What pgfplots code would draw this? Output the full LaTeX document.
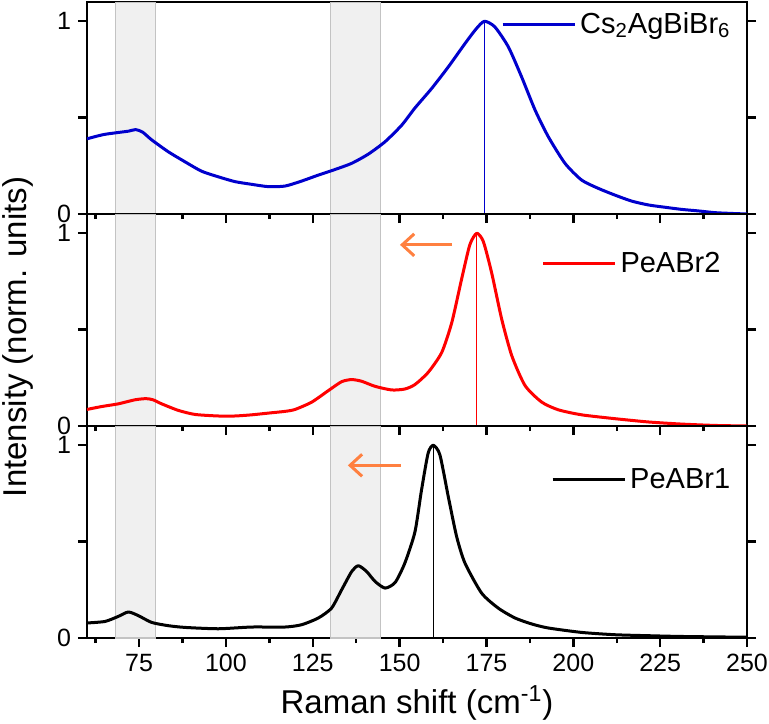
\documentclass[border=0pt]{standalone}
\usepackage{fontspec}
\setmainfont{Liberation Sans}
\usepackage{pgfplots}
\pgfplotsset{compat=1.18}
\usetikzlibrary{arrows.meta}
\definecolor{cblue}{RGB}{0,0,205}
\definecolor{cred}{RGB}{255,0,0}
\definecolor{corange}{RGB}{255,128,64}
\definecolor{bandfill}{RGB}{240,240,240}
\definecolor{bandline}{RGB}{195,195,195}
\pgfplotsset{
  panel/.style={
    width=330pt, height=106pt, scale only axis,
    xmin=60, xmax=250, ymin=0, ymax=1.1,
    axis line style={line width=1.2pt},
    xtick={75,100,...,250}, minor xtick={62.5,87.5,...,237.5},
    xtick pos=bottom,
    ytick={0,0.5,1}, yticklabels={0,,1},
    ytick pos=both,
    tick align=outside,
    major tick length=4.5pt, minor tick length=2.5pt,
    every tick/.style={black, line width=1.2pt},
    tick label style={font=\fontsize{12.5}{14}\selectfont},
    /pgf/number format/assume math mode=true,
    legend style={draw=none, fill=none, inner sep=0pt, anchor=west, xshift=-1pt,
      font=\fontsize{14.5}{16}\selectfont},
    legend cell align=left,
    legend image code/.code={\draw[#1] (0pt,0pt) -- (36pt,0pt);},
    clip=true,
  },
  band/.style={fill=bandfill, draw=bandline, line width=0.6pt, forget plot},
  curve/.style={line width=1.5pt, line join=round, smooth, tension=0.4},
  peak/.style={line width=0.7pt, forget plot},
  shiftarrow/.style={corange, line width=1.5pt, -{Straight Barb[length=6pt,width=11pt]}, forget plot},
}
\begin{document}
\begin{tikzpicture}
% ---------------- top panel ----------------
\begin{axis}[panel, name=top, xticklabels={},
  legend style={at={(axis cs:179.7,0.984)}}]
\addplot[band] coordinates {(68.3,0) (68.3,1.1) (79.8,1.1) (79.8,0)} -- cycle;
\addplot[band] coordinates {(130.2,0) (130.2,1.1) (144.6,1.1) (144.6,0)} -- cycle;
\addplot[peak, cblue] coordinates {(174.4,0) (174.4,1)};
\addplot[curve, cblue] coordinates {
(60,0.39) (62,0.40) (65,0.413) (69,0.423) (72,0.43) (74,0.438) (76,0.425)
(78.6,0.385) (83.4,0.323) (88.2,0.271) (93,0.222) (97.8,0.193) (102.6,0.168)
(107.4,0.154) (112.2,0.142) (117,0.145) (121.8,0.171) (126.6,0.202) (131.4,0.231)
(136.2,0.263) (141,0.311) (145.8,0.375) (150.6,0.461) (154.4,0.55) (159.2,0.651)
(164,0.763) (168.8,0.884) (172,0.96) (174.4,1.0) (177.4,0.971) (181.3,0.867)
(185.1,0.712) (189,0.539) (192.8,0.401) (197.6,0.263) (202.4,0.176) (207.2,0.133)
(212,0.098) (216.8,0.067) (221.6,0.047) (226.4,0.035) (231.2,0.024) (236,0.016)
(240.8,0.007) (245.6,0.003) (250,0.0)};
\addlegendentry{Cs\textsubscript{2}AgBiBr\textsubscript{6}}
\end{axis}
% ---------------- middle panel ----------------
\begin{axis}[panel, name=mid, at={(top.south west)}, anchor=north west, xticklabels={},
  ylabel={Intensity (norm. units)},
  ylabel style={font=\fontsize{16.5}{18}\selectfont, at={(ticklabel cs:0.42,5pt)}},
  legend style={at={(axis cs:191.3,0.842)}}]
\addplot[band] coordinates {(68.3,0) (68.3,1.1) (79.8,1.1) (79.8,0)} -- cycle;
\addplot[band] coordinates {(130.2,0) (130.2,1.1) (144.6,1.1) (144.6,0)} -- cycle;
\addplot[peak, cred] coordinates {(172.2,0) (172.2,1)};
\addplot[shiftarrow] coordinates {(165.1,0.94) (150.1,0.94)};
\addplot[curve, cred] coordinates {
(60,0.086) (64.2,0.101) (69,0.115) (73.8,0.136) (77,0.142) (79,0.136) (81.5,0.115)
(86.3,0.081) (91.1,0.060) (97.8,0.052) (102.6,0.052) (107.4,0.058) (112.2,0.067)
(117,0.076) (119.9,0.086) (124.7,0.124) (129.5,0.184) (133.3,0.230) (136.2,0.241)
(139.1,0.232) (142.9,0.206) (147.7,0.187) (151.5,0.192) (154.4,0.215) (158.2,0.278)
(162.1,0.381) (165,0.536) (167.8,0.759) (170.2,0.94) (172.2,1.0) (174.1,0.957)
(176.5,0.794) (179.4,0.553) (182.3,0.364) (186.1,0.210) (190.9,0.124) (195.7,0.084)
(202.4,0.058) (212,0.038) (221.6,0.021) (231.2,0.010) (240.8,0.003) (250,0.0)};
\addlegendentry{PeABr2}
\end{axis}
% ---------------- bottom panel ----------------
\begin{axis}[panel, name=bot, at={(mid.south west)}, anchor=north west,
  xlabel={Raman shift (cm\textsuperscript{-1})},
  xlabel style={font=\fontsize{16.5}{18}\selectfont},
  legend style={at={(axis cs:194.1,0.820)}}]
\addplot[band] coordinates {(68.3,0) (68.3,1.1) (79.8,1.1) (79.8,0)} -- cycle;
\addplot[band] coordinates {(130.2,0) (130.2,1.1) (144.6,1.1) (144.6,0)} -- cycle;
\addplot[peak, black] coordinates {(159.7,0) (159.7,1)};
\addplot[shiftarrow] coordinates {(150.3,0.896) (135.1,0.896)};
\addplot[curve, black] coordinates {
(60,0.078) (65.2,0.086) (69,0.112) (71.9,0.135) (74.8,0.116) (78.6,0.081) (83.4,0.064)
(88.2,0.055) (97.8,0.048) (107.4,0.057) (117,0.057) (121.8,0.069) (126.6,0.104)
(130.4,0.155) (133.3,0.250) (136.2,0.345) (138.1,0.375) (140.5,0.345) (142.9,0.294)
(145.8,0.259) (148.7,0.288) (151.5,0.389) (154.4,0.55) (156.3,0.768) (158.2,0.959)
(159.7,1.0) (161.6,0.950) (164,0.734) (166.4,0.527) (168.8,0.389) (173.6,0.233)
(178.4,0.155) (183.2,0.104) (188,0.073) (192.8,0.052) (202.4,0.029) (212,0.017)
(221.6,0.012) (231.2,0.008) (250,0.004)};
\addlegendentry{PeABr1}
\end{axis}
\pgfresetboundingbox
\path ([xshift=-43.5pt,yshift=1pt]top.north west) rectangle ([xshift=11pt,yshift=-42.5pt]bot.south east);
\end{tikzpicture}
\end{document}
